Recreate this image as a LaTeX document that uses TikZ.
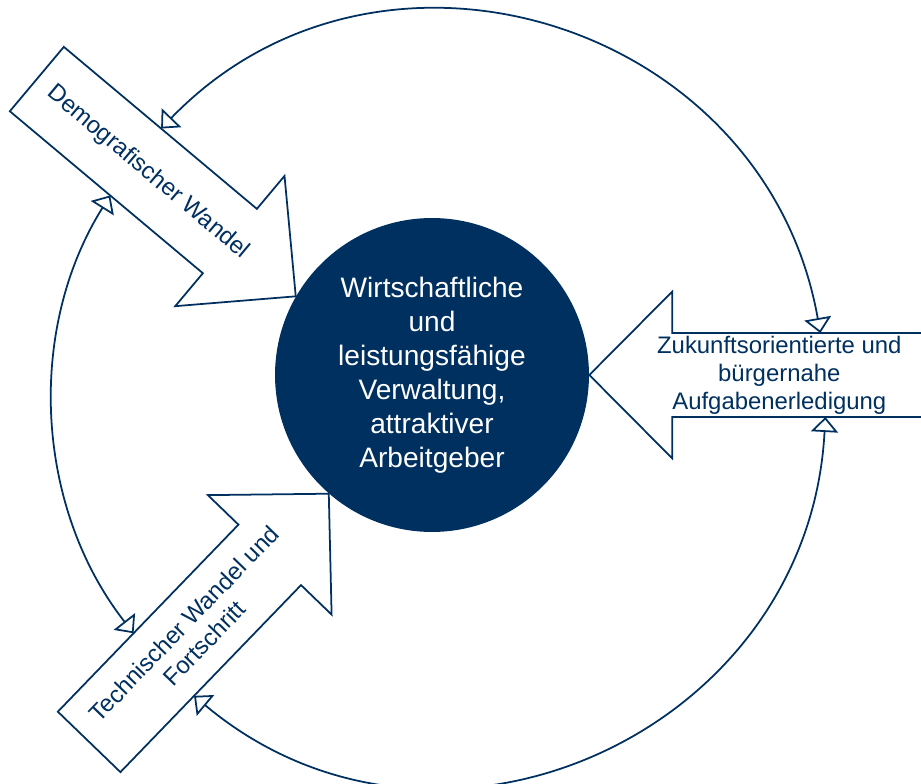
\documentclass[tikz,border=0pt]{standalone}
\usepackage{fontspec}
\setmainfont{Liberation Sans}
\usetikzlibrary{arrows.meta}

\definecolor{navy}{RGB}{0,48,96}

\begin{document}
\begin{tikzpicture}[x=0.02cm, y=0.02cm,
    hub/.style = {circle, fill=navy, text=white, minimum size=6.28cm, inner sep=0pt, align=center, font=\fontsize{16}{19.3}\selectfont},
    bigarrow/.style = {draw=navy, line width=1pt, fill=white, line join=miter},
    arrowtext/.style = {text=navy, align=center, font=\fontsize{13.6}{16}\selectfont},
    ring/.style = {draw=navy, line width=1pt, >={Triangle[open, length=0.3cm, width=0.54cm]}, <->}]

    \useasboundingbox (0,0) rectangle (921,784);

    % Mitte
    \node[hub] (hub) at (432,409) {Wirtschaftliche\\und\\leistungsfähige\\Verwaltung,\\attraktiver\\Arbeitgeber};

    % Demografischer Wandel (von oben links)
    \begin{scope}[shift={(hub.150)}, rotate=-40]
        \draw[bigarrow] (-338,-42) -- (-86,-42) -- (-86,-85) -- (0,0) -- (-86,85) -- (-86,42) -- (-338,42) -- cycle;
        \node[arrowtext, rotate=-40] (demo) at (-193,0) {Demografischer Wandel};
        \coordinate (demo-n) at (-211,42);
        \coordinate (demo-s) at (-207,-42);
    \end{scope}

    % Technischer Wandel (von unten links)
    \begin{scope}[shift={(hub.229)}, rotate=46]
        \draw[bigarrow] (-345,-43.5) -- (-85,-43.5) -- (-85,-86) -- (0,0) -- (-85,86) -- (-85,43.5) -- (-345,43.5) -- cycle;
        \node[arrowtext, rotate=46] (tech) at (-194,0) {Technischer Wandel und\\Fortschritt};
        \coordinate (tech-w) at (-236,43.5);
        \coordinate (tech-e) at (-239,-43.5);
    \end{scope}

    % Aufgabenerledigung (von rechts)
    \begin{scope}[shift={(hub.0)}, rotate=180]
        \draw[bigarrow] (-350,-42) -- (-83,-42) -- (-83,-83.5) -- (0,0) -- (-83,83.5) -- (-83,42) -- (-350,42) -- cycle;
        \node[arrowtext] (task) at (-190,0) {Zukunftsorientierte und\\bürgernahe\\Aufgabenerledigung};
        \coordinate (task-n) at (-231,-42);
        \coordinate (task-s) at (-236,42);
    \end{scope}

    % Kreislauf
    \draw[ring] (demo-n) to[out=46, in=100, looseness=1.17] (task-n);
    \draw[ring] (demo-s) to[out=238, in=128, looseness=0.93] (tech-w);
    \draw[ring] (tech-e) to[out=320, in=267, looseness=1.18] (task-s);

\end{tikzpicture}
\end{document}
